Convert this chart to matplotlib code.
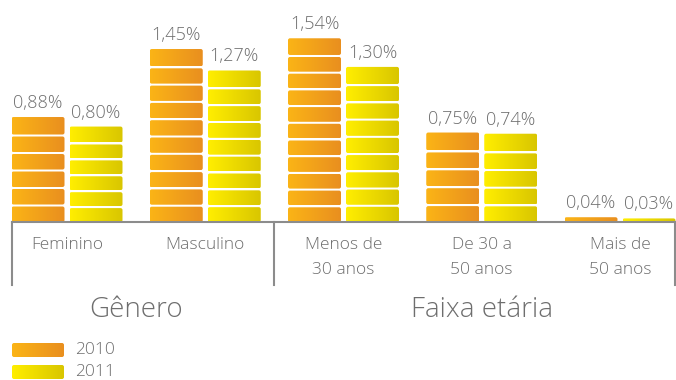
import numpy as np
import matplotlib.pyplot as plt
from matplotlib.patches import FancyBboxPatch
from matplotlib.colors import LinearSegmentedColormap

categories = ['Feminino', 'Masculino', 'Menos de\n30 anos', 'De 30 a\n50 anos', 'Mais de\n50 anos']
groups = ['Gênero', 'Faixa etária']
group_span = [(0, 1), (2, 4)]
v2010 = [0.88, 1.45, 1.54, 0.75, 0.04]
v2011 = [0.80, 1.27, 1.30, 0.74, 0.03]
labels2010 = ['0,88%', '1,45%', '1,54%', '0,75%', '0,04%']
labels2011 = ['0,80%', '1,27%', '1,30%', '0,74%', '0,03%']
years = ['2010', '2011']

plt.rcParams['font.family'] = ['Open Sans', 'DejaVu Sans']
plt.rcParams['font.weight'] = 'light'
txt = '#6e6e6e'
line = '#8c8c8c'

cmaps = [LinearSegmentedColormap.from_list('c10', ['#fbb416', '#e98f1f']),
         LinearSegmentedColormap.from_list('c11', ['#ffee00', '#d9c600'])]

fig = plt.figure(figsize=(6.76, 3.80), dpi=100)
# axes spans x 12..676 px, y from baseline (222 px) to top
ax = fig.add_axes([12 / 676, (380 - 222) / 380, 664 / 676, 222 / 380])
xpx = 138.25   # px per category
ypx = 119.3    # px per 1%
left, right = -55 / xpx, (676 - 67) / xpx
ax.set_xlim(left, right)
ax.set_ylim(0, 222 / ypx)
ax.axis('off')

bw = 53 / xpx
off = 29 / xpx
seg = 0.14
gap = 2 / ypx
grad = np.linspace(0, 1, 64).reshape(1, -1)
asp = xpx / ypx


def segment(x0, y0, w, h, cmap, free=False):
    box = FancyBboxPatch((x0, y0), w, h,
                         boxstyle='round,pad=0,rounding_size=%f' % (2 / xpx),
                         mutation_aspect=asp, lw=0, fc='none', clip_on=False)
    ax.add_patch(box)
    im = ax.imshow(grad, cmap=cmap, extent=(x0, x0 + w, y0, y0 + h),
                   aspect='auto', zorder=2)
    if free:
        im.set_clip_box(fig.bbox)
    im.set_clip_path(box)


for k, (vals, labs) in enumerate([(v2010, labels2010), (v2011, labels2011)]):
    for i, v in enumerate(vals):
        xc = i + (-off if k == 0 else off)
        x0 = xc - bw / 2
        # split each bar into equal stacked pieces
        n = max(1, int(round(v / seg)))
        step = v / n
        for j in range(n):
            h = step - (gap if j < n - 1 else 0)
            segment(x0, j * step, bw, h, cmaps[k])
        ax.text(xc, v + 5 / ypx, labs[i], ha='center', va='bottom',
                fontsize=13, color=txt)

# baseline and dividers
yb = -63 / ypx
ax.plot([left, right], [0, 0], color=line, lw=1.5, clip_on=False)
for xv in [left, 1.5, right - 1 / xpx]:
    ax.plot([xv, xv], [0, yb], color=line, lw=1.5, clip_on=False)

for i, c in enumerate(categories):
    ax.text(i, -15 / ypx, c, ha='center', va='top', fontsize=12.5,
            color=txt, linespacing=1.75)

for g, (a, b) in zip(groups, group_span):
    ax.text((a + b) / 2, -88 / ypx, g, ha='center', va='center',
            fontsize=20, color=txt)

# legend
for k, yr in enumerate(years):
    yc = -(128 + 22 * k) / ypx
    segment(left, yc - 7 / ypx, 52 / xpx, 14 / ypx, cmaps[k], free=True)
    ax.text((75 - 67) / xpx, yc, yr, ha='left', va='center',
            fontsize=12.5, color=txt)

fig.savefig('out.png', dpi=100)
